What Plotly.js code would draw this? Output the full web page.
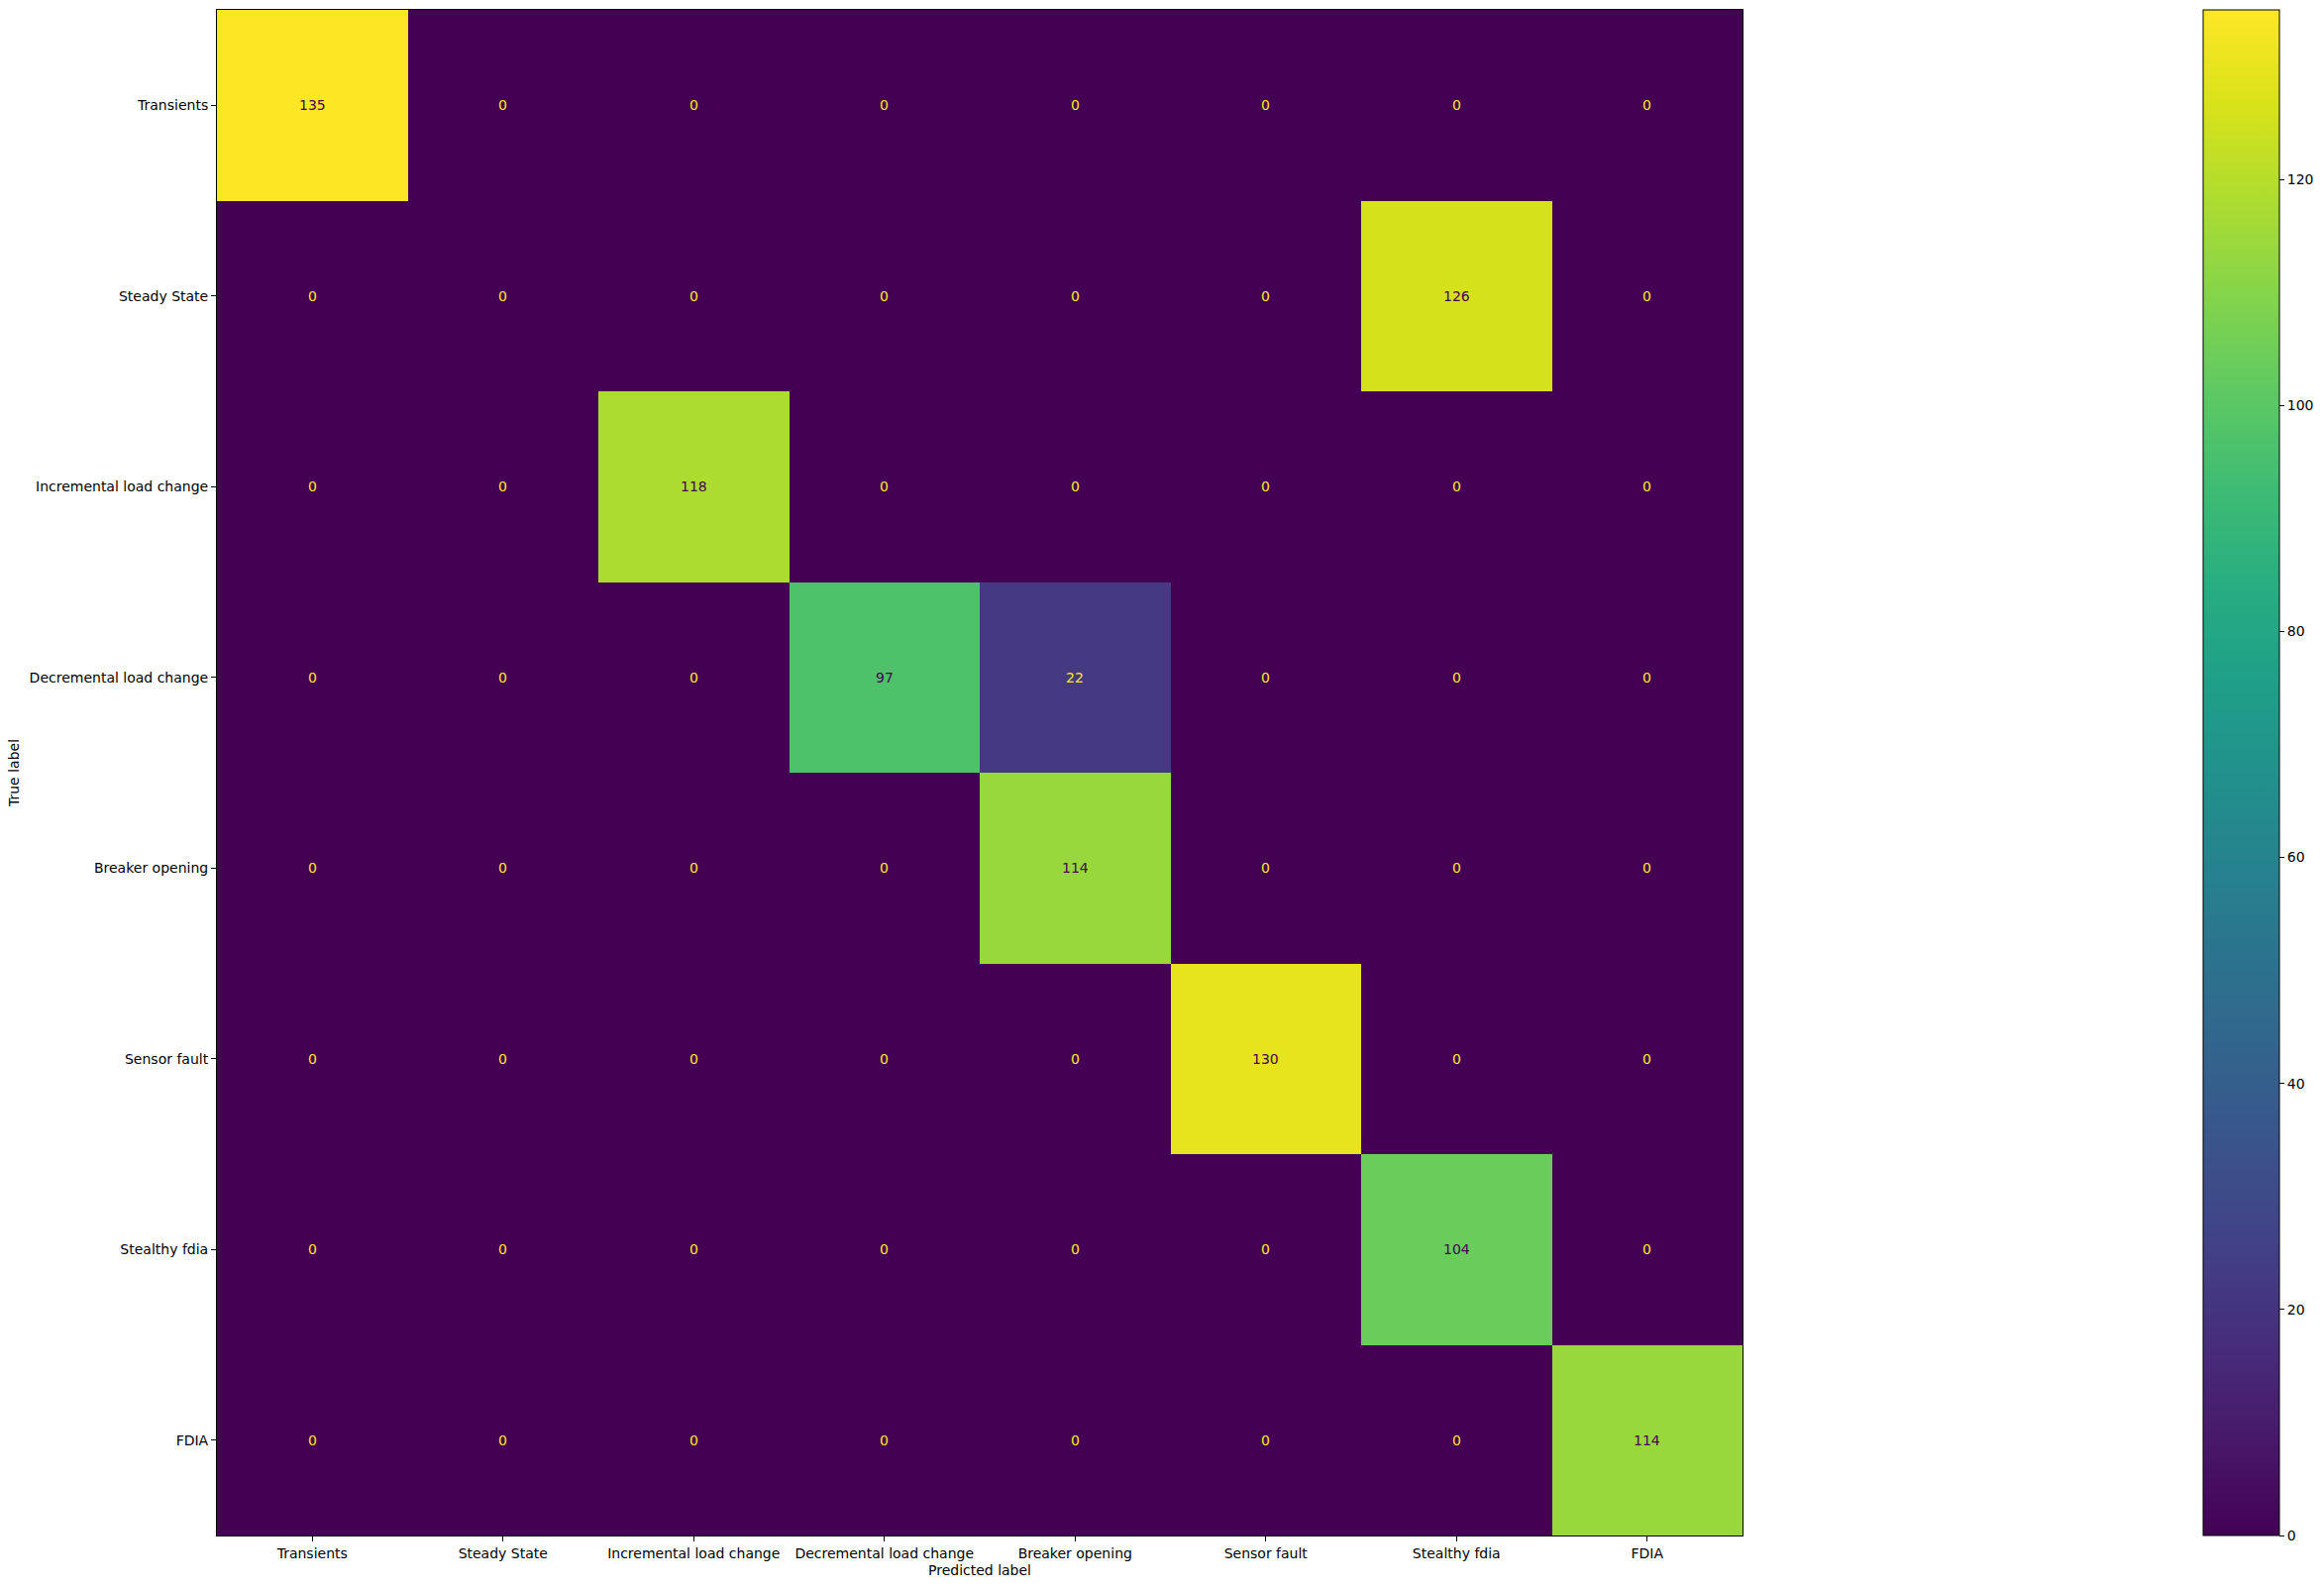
<!DOCTYPE html>
<html>
<head>
<meta charset="utf-8">
<script src="https://cdn.plot.ly/plotly-3.0.1.min.js"></script>
<style>
  html, body { margin: 0; padding: 0; background: #ffffff; }
  #chart { width: 2346px; height: 1603px; }
</style>
</head>
<body>
<div id="chart"></div>
<script>
// ---- data ----
const predictedLabels = ["Transients", "Steady State", "Incremental load change", "Decremental load change",
                         "Breaker opening", "Sensor fault", "Stealthy fdia", "FDIA"];
const trueLabels = ["Transients", "Steady State", "Incremental load change", "Decremental load change",
                    "Breaker opening", "Sensor fault", "Stealthy fdia", "FDIA"];
const counts = [
  [135, 0, 0, 0, 0, 0, 0, 0],
  [0, 0, 0, 0, 0, 0, 126, 0],
  [0, 0, 118, 0, 0, 0, 0, 0],
  [0, 0, 0, 97, 22, 0, 0, 0],
  [0, 0, 0, 0, 114, 0, 0, 0],
  [0, 0, 0, 0, 0, 130, 0, 0],
  [0, 0, 0, 0, 0, 0, 104, 0],
  [0, 0, 0, 0, 0, 0, 0, 114]
];
const colorbarTicks = [0, 20, 40, 60, 80, 100, 120];
const xTitle = "Predicted label";
const yTitle = "True label";

// matplotlib viridis samples
const viridis = [
  [0.0, "#440154"], [0.0625, "#48186a"], [0.125, "#472d7b"], [0.1875, "#424086"],
  [0.25, "#3b528b"], [0.3125, "#33638d"], [0.375, "#2c728e"], [0.4375, "#26828e"],
  [0.5, "#21918c"], [0.5625, "#1fa088"], [0.625, "#28ae80"], [0.6875, "#3fbc73"],
  [0.75, "#5ec962"], [0.8125, "#84d44b"], [0.875, "#addc30"], [0.9375, "#d8e219"],
  [1.0, "#fde725"]
];

const FS = 14;

let zmin = Infinity, zmax = -Infinity;
counts.forEach(r => r.forEach(v => { zmin = Math.min(zmin, v); zmax = Math.max(zmax, v); }));
const thresh = (zmin + zmax) / 2;

const annotations = [];
counts.forEach((row, i) => row.forEach((v, j) => {
  annotations.push({
    x: predictedLabels[j], y: trueLabels[i], xref: "x", yref: "y",
    text: String(v), showarrow: false,
    font: { family: "DejaVu Sans", size: FS, color: v > thresh ? "#440154" : "#fde725" }
  });
}));

const trace = {
  type: "heatmap",
  x: predictedLabels,
  y: trueLabels,
  z: counts,
  zmin: zmin, zmax: zmax,
  colorscale: viridis,
  hoverongaps: false,
  colorbar: {
    x: (2224 - 219) / 1540, xanchor: "left", xref: "paper",
    y: 0.5, yanchor: "middle", len: 1, lenmode: "fraction",
    thickness: 77, thicknessmode: "pixels",
    xpad: 0, ypad: 0,
    outlinewidth: 1, outlinecolor: "#000000",
    tickmode: "array", tickvals: colorbarTicks,
    ticks: "outside", ticklen: 5, tickwidth: 1, tickcolor: "#000000",
    tickfont: { family: "DejaVu Sans", size: FS, color: "#000000" }
  }
};

const axisCommon = {
  type: "category",
  showgrid: false, zeroline: false,
  showline: true, linecolor: "#000000", linewidth: 1, mirror: true,
  ticks: "outside", ticklen: 5, tickwidth: 1, tickcolor: "#000000",
  tickfont: { family: "DejaVu Sans", size: FS, color: "#000000" }
};

const layout = {
  width: 2346, height: 1603,
  margin: { l: 219, r: 587, t: 10, b: 53, autoexpand: false },
  paper_bgcolor: "#ffffff", plot_bgcolor: "#ffffff",
  xaxis: Object.assign({}, axisCommon, {
    title: { text: xTitle, font: { family: "DejaVu Sans", size: FS, color: "#000000" }, standoff: 5 },
    automargin: false
  }),
  yaxis: Object.assign({}, axisCommon, {
    autorange: "reversed",
    ticklabelstandoff: 0,
    title: { text: yTitle, font: { family: "DejaVu Sans", size: FS, color: "#000000" }, standoff: 6 },
    automargin: false
  }),
  annotations: annotations,
  showlegend: false
};

Plotly.newPlot("chart", [trace], layout, { displayModeBar: false, staticPlot: true });
</script>
</body>
</html>
